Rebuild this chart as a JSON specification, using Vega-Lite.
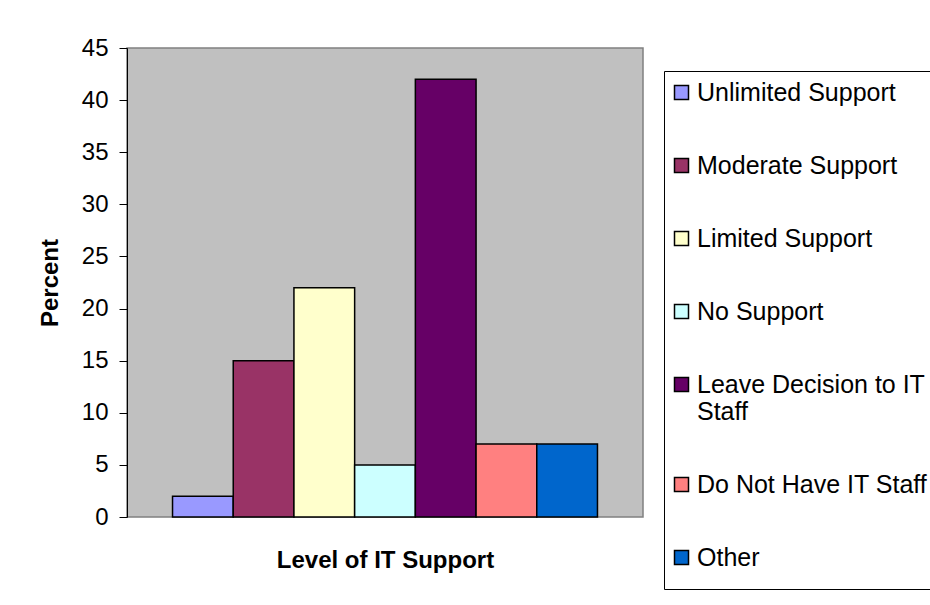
{
  "$schema": "https://vega.github.io/schema/vega-lite/v6.json",
  "autosize": {"type": "none"},
  "padding": {"left": 127, "top": 48, "right": 287, "bottom": 88},
  "width": 516,
  "height": 469,
  "background": "white",
  "data": {
    "values": [
      {"level": "Unlimited Support", "percent": 2},
      {"level": "Moderate Support", "percent": 15},
      {"level": "Limited Support", "percent": 22},
      {"level": "No Support", "percent": 5},
      {"level": "Leave Decision to IT Staff", "percent": 42},
      {"level": "Do Not Have IT Staff", "percent": 7},
      {"level": "Other", "percent": 7}
    ]
  },
  "mark": {"type": "bar", "stroke": "black", "strokeWidth": 1.5},
  "encoding": {
    "x": {
      "field": "level",
      "type": "nominal",
      "sort": null,
      "scale": {"paddingInner": 0, "paddingOuter": 0.75},
      "axis": {
        "labels": false,
        "ticks": false,
        "domain": false,
        "title": "Level of IT Support",
        "titleFont": "Liberation Sans",
        "titleFontSize": 24,
        "titleFontWeight": "bold",
        "titleColor": "black",
        "titlePadding": 31
      }
    },
    "y": {
      "field": "percent",
      "type": "quantitative",
      "scale": {"domain": [0, 45], "nice": false},
      "axis": {
        "values": [0, 5, 10, 15, 20, 25, 30, 35, 40, 45],
        "grid": false,
        "domainColor": "black",
        "domainWidth": 1,
        "tickColor": "black",
        "tickSize": 8,
        "labelPadding": 11,
        "labelFont": "Liberation Sans",
        "labelFontSize": 24,
        "labelColor": "black",
        "title": "Percent",
        "titleFont": "Liberation Sans",
        "titleFontSize": 24,
        "titleFontWeight": "bold",
        "titleColor": "black",
        "titlePadding": 19
      }
    },
    "color": {
      "field": "level",
      "type": "nominal",
      "sort": null,
      "scale": {
        "domain": ["Unlimited Support", "Moderate Support", "Limited Support", "No Support", "Leave Decision to IT Staff", "Do Not Have IT Staff", "Other"],
        "range": ["#9999FF", "#993366", "#FFFFCC", "#CCFFFF", "#660066", "#FF8080", "#0066CC"]
      },
      "legend": {
        "orient": "none",
        "legendX": 537,
        "legendY": 23,
        "title": " ",
        "titleOrient": "bottom",
        "titleFontSize": 9,
        "titlePadding": 0,
        "strokeColor": "black",
        "fillColor": "white",
        "padding": 9,
        "symbolType": "square",
        "symbolSize": 196,
        "symbolOffset": -4,
        "symbolStrokeColor": "black",
        "symbolStrokeWidth": 1.5,
        "labelFont": "Liberation Sans",
        "labelFontSize": 25,
        "labelColor": "black",
        "labelOffset": 3,
        "labelLimit": 400,
        "labelExpr": "datum.label == 'Leave Decision to IT Staff' ? ['Leave Decision to IT', 'Staff'] : datum.label",
        "labelLineHeight": 29,
        "rowPadding": 47
      }
    }
  },
  "config": {
    "view": {"fill": "#C0C0C0", "stroke": "#808080", "strokeWidth": 1.5}
  }
}
